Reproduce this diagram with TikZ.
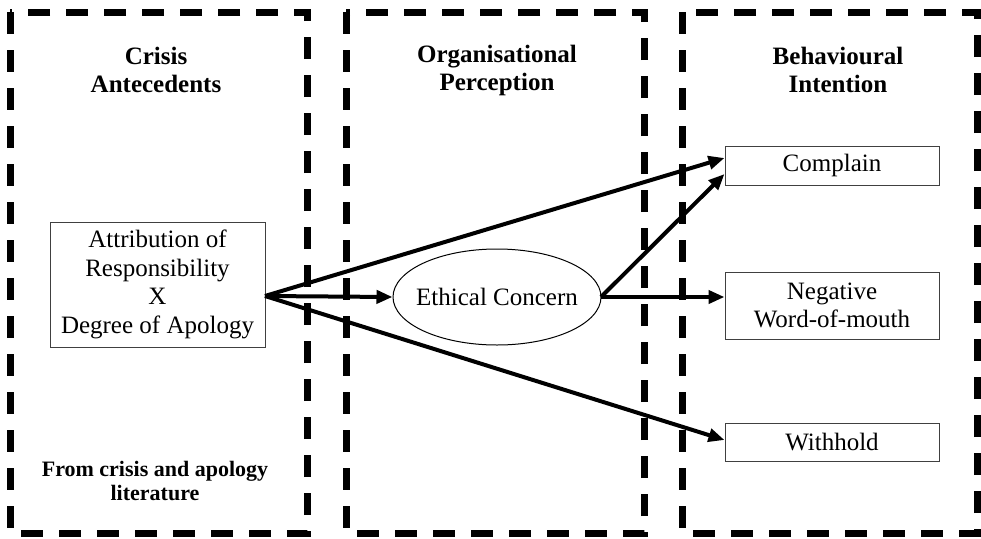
\documentclass[tikz,border=0pt]{standalone}
\usepackage{fontspec}
\setmainfont{Liberation Serif}
\usetikzlibrary{arrows.meta,shapes.geometric}
\begin{document}
\begin{tikzpicture}[x=1pt,y=-1pt,
  panel/.style={draw=black,line width=7pt,dash pattern=on 22pt off 16pt},
  title/.style={font=\fontsize{25}{28}\selectfont\bfseries,align=center},
  body/.style={font=\fontsize{25}{28.5}\selectfont,align=center},
  outbox/.style={draw=black!75,line width=1pt,minimum width=214pt,inner sep=0pt,body},
  conn/.style={line width=4pt,-{Triangle[length=16pt,width=13pt]}}
]
\useasboundingbox (0,0) rectangle (981,538);
\draw[panel] (10,12) rectangle (307,533);
\draw[panel] (346,12) rectangle (644,533);
\draw[panel] (682,12) rectangle (977,533);

\node[title] (t1) at (156,70) {Crisis\\Antecedents};
\node[title] (t2) at (497,70) {Organisational\\Perception};
\node[title] (t3) at (838,70) {Behavioural\\Intention};
\node[title,font=\fontsize{22}{24}\selectfont\bfseries] (src) at (155,481) {From crisis and apology\\literature};

\node[draw=black!75,line width=1pt,minimum width=215pt,minimum height=125pt,inner sep=0pt,body] (attr) at (157.5,284.5)
  {Attribution of\\Responsibility\\X\\Degree of Apology};
\node[draw=black,line width=1pt,ellipse,minimum width=208pt,minimum height=96pt,inner xsep=-30pt,inner ysep=0pt,body] (eth) at (497,297) {Ethical Concern};

\node[outbox,minimum height=39pt] (comp) at (832,165.5) {Complain};
\node[outbox,minimum height=67pt] (nwom) at (832,305.5) {Negative\\Word-of-mouth};
\node[outbox,minimum height=38pt] (with) at (832,442) {Withhold};

\coordinate (a) at (265,296);
\coordinate (e) at (601,297);

\draw[conn] (a) -- (eth.west);
\draw[conn] (a) -- ([yshift=7.5pt]comp.west);
\draw[conn] (a) -- ([yshift=2pt]with.west);
\draw[conn] (e) -- ([yshift=-8.5pt]comp.west);
\draw[conn] (e) -- (e -| nwom.west);
\end{tikzpicture}
\end{document}
